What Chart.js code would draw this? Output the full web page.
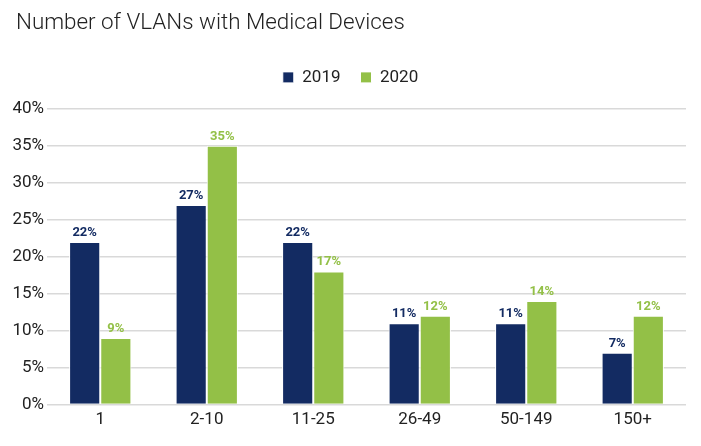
<!DOCTYPE html>
<html>
<head>
<meta charset="utf-8">
<script src="https://cdn.jsdelivr.net/npm/chart.js@4"></script>
<style>
  body { margin: 0; background: #fff; }
</style>
</head>
<body>
<canvas id="myChart" width="701" height="446"></canvas>
<script>
var categories = ['1', '2-10', '11-25', '26-49', '50-149', '150+'];
var values2019 = [22, 27, 22, 11, 11, 7];
var values2020 = [9, 35, 18, 12, 14, 12];
// printed labels (the 11-25 bar for 2020 is drawn a bit taller than its 17% label)
var labels2019 = ['22%', '27%', '22%', '11%', '11%', '7%'];
var labels2020 = ['9%', '35%', '17%', '12%', '14%', '12%'];
var yTicks = [0, 5, 10, 15, 20, 25, 30, 35, 40];

var navy = '#132b62';
var green = '#93c047';

// simple value labels above each bar
var barLabels = {
    id: 'barLabels',
    afterDatasetsDraw: function(chart) {
        var ctx = chart.ctx;
        ctx.save();
        ctx.font = 'bold 13px Roboto';
        ctx.textAlign = 'center';
        ctx.textBaseline = 'bottom';
        chart.data.datasets.forEach(function(ds, i) {
            var meta = chart.getDatasetMeta(i);
            ctx.fillStyle = ds.backgroundColor;
            meta.data.forEach(function(bar, j) {
                ctx.fillText(ds.printed[j], bar.x, bar.y - 3);
            });
        });
        ctx.restore();
    }
};

// extra room under the legend, legend centred on the canvas,
// title pushed in from the left edge
var layoutTweaks = {
    id: 'layoutTweaks',
    beforeInit: function(chart) {
        var fit = chart.legend.fit;
        chart.legend.fit = function() {
            fit.bind(chart.legend)();
            this.height += 13;
        };
    },
    afterLayout: function(chart) {
        chart.titleBlock.left = 16;
        chart.legend.left += 7.5;
        chart.legend.right += 7.5;
    }
};

var ctx = document.getElementById('myChart').getContext('2d');
var myChart = new Chart(ctx, {
    type: 'bar',
    data: {
        labels: categories,
        datasets: [{
            label: '2019',
            data: values2019,
            printed: labels2019,
            backgroundColor: navy,
            borderColor: '#ffffff',
            borderWidth: 1
        }, {
            label: '2020',
            data: values2020,
            printed: labels2020,
            backgroundColor: green,
            borderColor: '#ffffff',
            borderWidth: 1
        }]
    },
    options: {
        responsive: false,
        animation: false,
        layout: {
            padding: { left: 0, right: 15, top: 0, bottom: 0 }
        },
        datasets: {
            bar: {
                categoryPercentage: 0.585,
                barPercentage: 1
            }
        },
        plugins: {
            title: {
                display: true,
                text: 'Number of VLANs with Medical Devices',
                align: 'start',
                color: '#222',
                font: { family: 'Roboto', size: 22.4, weight: '300' },
                padding: { top: 10, bottom: 12 }
            },
            legend: {
                position: 'top',
                labels: {
                    boxWidth: 11,
                    boxHeight: 11,
                    padding: 20,
                    color: '#222',
                    font: { family: 'Roboto', size: 17 }
                }
            },
            tooltip: { enabled: false }
        },
        scales: {
            x: {
                grid: { display: false, drawTicks: false },
                border: { display: false },
                ticks: {
                    color: '#222',
                    padding: 5,
                    font: { family: 'Roboto', size: 17 }
                },
                afterFit: function(scale) { scale.height = 41.5; }
            },
            y: {
                min: 0,
                max: 40,
                afterBuildTicks: function(scale) {
                    scale.ticks = yTicks.map(function(v) { return { value: v }; });
                },
                grid: { color: '#d9d9d9', lineWidth: 1.5, drawTicks: false },
                border: { display: false },
                ticks: {
                    color: '#222',
                    padding: 3,
                    font: { family: 'Roboto', size: 17 },
                    callback: function(v) { return v + '%'; }
                },
                afterFit: function(scale) { scale.width = 47; }
            }
        }
    },
    plugins: [barLabels, layoutTweaks]
});
</script>
</body>
</html>
